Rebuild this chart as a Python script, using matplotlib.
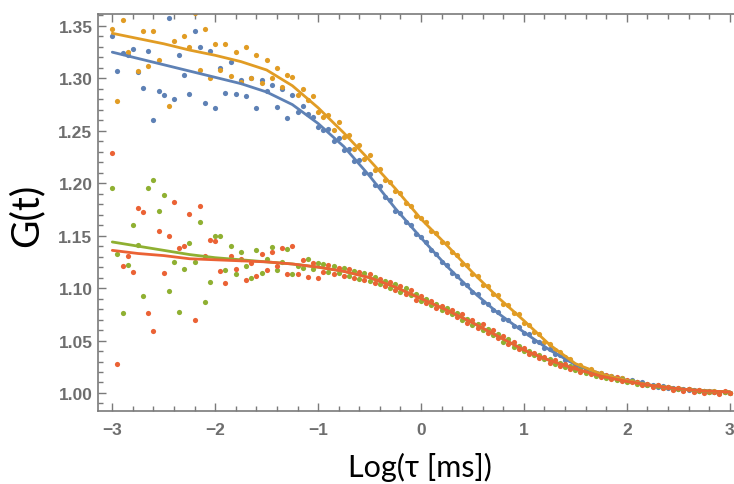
import matplotlib
matplotlib.use("Agg")
import matplotlib.pyplot as plt
from matplotlib.ticker import MultipleLocator, FormatStrFormatter

# log10 of lag time (ms), one entry per measured point
log_tau = [
    -3.00, -2.95, -2.90, -2.85, -2.80, -2.75, -2.70, -2.65, -2.60, -2.55, -2.50,
    -2.45, -2.40, -2.35, -2.30, -2.25, -2.20, -2.15, -2.10, -2.05, -2.00,
    -1.95, -1.90, -1.85, -1.80, -1.75, -1.70, -1.65, -1.60, -1.55, -1.50,
    -1.45, -1.40, -1.35, -1.30, -1.25, -1.20, -1.15, -1.10, -1.05, -1.00,
    -0.95, -0.90, -0.85, -0.80, -0.75, -0.70, -0.65, -0.60, -0.55, -0.50,
    -0.45, -0.40, -0.35, -0.30, -0.25, -0.20, -0.15, -0.10, -0.05, 0.00,
    0.05, 0.10, 0.15, 0.20, 0.25, 0.30, 0.35, 0.40, 0.45, 0.50,
    0.55, 0.60, 0.65, 0.70, 0.75, 0.80, 0.85, 0.90, 0.95, 1.00,
    1.05, 1.10, 1.15, 1.20, 1.25, 1.30, 1.35, 1.40, 1.45, 1.50,
    1.55, 1.60, 1.65, 1.70, 1.75, 1.80, 1.85, 1.90, 1.95, 2.00,
    2.05, 2.10, 2.15, 2.20, 2.25, 2.30, 2.35, 2.40, 2.45, 2.50,
    2.55, 2.60, 2.65, 2.70, 2.75, 2.80, 2.85, 2.90, 2.95, 3.00,
]

g_blue = [
    1.340, 1.307, 1.324, 1.322, 1.328, 1.306, 1.291, 1.326, 1.260, 1.288, 1.284,
    1.358, 1.280, 1.322, 1.303, 1.285, 1.345, 1.330, 1.277, 1.326, 1.272,
    1.310, 1.286, 1.316, 1.285, 1.298, 1.283, 1.300, 1.272, 1.298, 1.288,
    1.294, 1.273, 1.290, 1.262, 1.284, 1.268, 1.274, 1.266, 1.263, 1.254,
    1.251, 1.252, 1.240, 1.243, 1.232, 1.233, 1.221, 1.222, 1.210, 1.209,
    1.198, 1.197, 1.187, 1.184, 1.174, 1.172, 1.163, 1.160, 1.152, 1.149,
    1.144, 1.136, 1.133, 1.125, 1.122, 1.114, 1.112, 1.105, 1.103, 1.096,
    1.094, 1.087, 1.085, 1.079, 1.077, 1.071, 1.070, 1.064, 1.063, 1.057,
    1.056, 1.050, 1.049, 1.043, 1.042, 1.037, 1.036, 1.031, 1.031, 1.026,
    1.026, 1.022, 1.022, 1.019, 1.019, 1.016, 1.016, 1.013, 1.014, 1.011,
    1.012, 1.010, 1.010, 1.008, 1.008, 1.006, 1.007, 1.005, 1.005, 1.004,
    1.004, 1.003, 1.003, 1.002, 1.002, 1.001, 1.001, 1.000, 1.001, 1.000,
]

g_orange = [
    1.347, 1.278, 1.356, 1.325, 1.365, 1.307, 1.345, 1.312, 1.345, 1.318, 1.370,
    1.274, 1.336, 1.365, 1.340, 1.330, 1.362, 1.308, 1.347, 1.300, 1.333,
    1.308, 1.333, 1.302, 1.325, 1.297, 1.330, 1.300, 1.322, 1.296, 1.318,
    1.300, 1.310, 1.292, 1.303, 1.301, 1.284, 1.290, 1.279, 1.283, 1.268,
    1.263, 1.265, 1.251, 1.258, 1.244, 1.246, 1.233, 1.236, 1.223, 1.227,
    1.213, 1.214, 1.203, 1.201, 1.193, 1.191, 1.181, 1.178, 1.169, 1.167,
    1.163, 1.154, 1.153, 1.144, 1.143, 1.134, 1.132, 1.123, 1.122, 1.113,
    1.112, 1.103, 1.102, 1.094, 1.093, 1.085, 1.084, 1.076, 1.075, 1.067,
    1.065, 1.058, 1.056, 1.049, 1.047, 1.041, 1.039, 1.034, 1.032, 1.027,
    1.027, 1.023, 1.023, 1.019, 1.019, 1.016, 1.016, 1.013, 1.014, 1.011,
    1.011, 1.010, 1.009, 1.009, 1.007, 1.008, 1.006, 1.006, 1.004, 1.005,
    1.003, 1.004, 1.002, 1.003, 1.002, 1.001, 1.002, 1.000, 1.001, 1.000,
]

g_green = [
    1.195, 1.133, 1.076, 1.122, 1.160, 1.141, 1.092, 1.195, 1.203, 1.174, 1.189,
    1.097, 1.125, 1.077, 1.118, 1.143, 1.125, 1.163, 1.087, 1.106, 1.150,
    1.150, 1.117, 1.140, 1.113, 1.134, 1.121, 1.110, 1.136, 1.114, 1.128,
    1.139, 1.117, 1.125, 1.137, 1.113, 1.121, 1.119, 1.128, 1.118, 1.124,
    1.123, 1.115, 1.121, 1.114, 1.119, 1.112, 1.116, 1.109, 1.114, 1.107,
    1.111, 1.104, 1.107, 1.100, 1.104, 1.096, 1.100, 1.093, 1.094, 1.088,
    1.090, 1.084, 1.085, 1.079, 1.081, 1.075, 1.076, 1.070, 1.071, 1.065,
    1.066, 1.060, 1.061, 1.055, 1.056, 1.049, 1.051, 1.044, 1.045, 1.040,
    1.040, 1.036, 1.036, 1.032, 1.032, 1.028, 1.029, 1.025, 1.026, 1.022,
    1.023, 1.019, 1.020, 1.016, 1.017, 1.014, 1.015, 1.012, 1.013, 1.010,
    1.011, 1.009, 1.009, 1.008, 1.007, 1.007, 1.005, 1.006, 1.004, 1.004,
    1.003, 1.004, 1.002, 1.002, 1.002, 1.001, 1.001, 1.000, 1.001, 1.000,
]

g_red = [
    1.229, 1.028, 1.121, 1.131, 1.115, 1.176, 1.173, 1.076, 1.059, 1.154, 1.114,
    1.150, 1.182, 1.138, 1.140, 1.171, 1.070, 1.178, 1.131, 1.146, 1.145,
    1.116, 1.105, 1.131, 1.118, 1.128, 1.108, 1.124, 1.112, 1.133, 1.117,
    1.134, 1.121, 1.138, 1.113, 1.140, 1.113, 1.127, 1.111, 1.124, 1.110,
    1.115, 1.122, 1.113, 1.119, 1.112, 1.118, 1.110, 1.115, 1.108, 1.113,
    1.105, 1.109, 1.102, 1.106, 1.098, 1.102, 1.094, 1.098, 1.089, 1.092,
    1.086, 1.088, 1.081, 1.083, 1.077, 1.079, 1.072, 1.075, 1.067, 1.070,
    1.062, 1.066, 1.057, 1.060, 1.052, 1.054, 1.047, 1.049, 1.042, 1.043,
    1.037, 1.038, 1.033, 1.034, 1.029, 1.031, 1.026, 1.028, 1.023, 1.025,
    1.020, 1.022, 1.018, 1.019, 1.015, 1.017, 1.013, 1.015, 1.011, 1.012,
    1.010, 1.010, 1.008, 1.009, 1.006, 1.008, 1.005, 1.006, 1.003, 1.005,
    1.002, 1.004, 1.001, 1.003, 1.000, 1.002, 1.001, 0.999, 1.002, 1.000,
]

# fitted curves, sampled every 0.25 in log(tau)
fit_x = [-3.00, -2.75, -2.50, -2.25, -2.00, -1.75, -1.50, -1.25, -1.00, -0.75,
         -0.50, -0.25, 0.00, 0.25, 0.50, 0.75, 1.00, 1.25, 1.50, 1.75,
         2.00, 2.25, 2.50, 2.75, 3.00]
fit_blue = [1.325, 1.319, 1.313, 1.307, 1.301, 1.295, 1.287, 1.275, 1.257, 1.235,
            1.207, 1.176, 1.148, 1.121, 1.097, 1.076, 1.058, 1.041, 1.027, 1.018,
            1.012, 1.007, 1.004, 1.002, 1.001]
fit_orange = [1.343, 1.338, 1.333, 1.327, 1.322, 1.316, 1.308, 1.293, 1.272, 1.248,
              1.222, 1.195, 1.166, 1.141, 1.115, 1.091, 1.069, 1.046, 1.028, 1.018,
              1.012, 1.007, 1.004, 1.002, 1.001]
fit_green = [1.144, 1.140, 1.136, 1.132, 1.129, 1.127, 1.125, 1.123, 1.120, 1.116,
             1.110, 1.101, 1.090, 1.079, 1.067, 1.054, 1.041, 1.031, 1.023, 1.016,
             1.011, 1.007, 1.004, 1.002, 1.001]
fit_red = [1.136, 1.133, 1.131, 1.128, 1.127, 1.126, 1.125, 1.123, 1.120, 1.116,
           1.110, 1.101, 1.090, 1.079, 1.067, 1.054, 1.041, 1.031, 1.023, 1.016,
           1.011, 1.007, 1.004, 1.002, 1.001]

colores = ["#5E81B5", "#E19C24", "#8FB032", "#EB6235"]


def main():
    fig = plt.figure(figsize=(7.34, 4.85), dpi=100)
    # the frame runs past the right edge, like the cropped original
    ax = fig.add_axes([98 / 734, 1 - 412 / 485, 646 / 734, 397 / 485])

    puntos = [g_blue, g_orange, g_green, g_red]
    ajustes = [fit_blue, fit_orange, fit_green, fit_red]

    for serie, c in zip(puntos, colores):
        ax.scatter(log_tau, serie, s=14, color=c, linewidths=0, zorder=2)
    for ajuste, c in zip(ajustes, colores):
        ax.plot(fit_x, ajuste, color=c, lw=2.0, zorder=3, solid_capstyle="round")

    ax.set_xlim(-3.139, 3.139)
    ax.set_ylim(0.9828, 1.3614)

    ax.xaxis.set_major_locator(MultipleLocator(1))
    ax.xaxis.set_minor_locator(MultipleLocator(0.2))
    ax.yaxis.set_major_locator(MultipleLocator(0.05))
    ax.yaxis.set_minor_locator(MultipleLocator(0.01))
    ax.yaxis.set_major_formatter(FormatStrFormatter("%.2f"))
    ax.set_xticks([-3, -2, -1, 0, 1, 2, 3])
    ax.set_xticklabels(["\u22123", "\u22122", "\u22121", "0", "1", "2", "3"])

    gris = "#7a7a7a"
    for s in ax.spines.values():
        s.set_color(gris)
        s.set_linewidth(1.2)
    ax.tick_params(which="both", direction="in", top=True, right=True,
                   color=gris, width=1.0, labelcolor="#6e6e6e")
    ax.tick_params(which="major", length=6)
    ax.tick_params(which="minor", length=3.5)
    ax.tick_params(axis="x", pad=8)
    ax.tick_params(axis="y", pad=4)
    for lab in ax.get_xticklabels() + ax.get_yticklabels():
        lab.set_fontfamily("Liberation Sans")
        lab.set_fontweight("bold")
        lab.set_fontsize(12.5)

    fig.text(420 / 734, 1 - 477 / 485, "Log(\u03c4 [ms])", ha="center",
             va="baseline", fontsize=22, family="Lato", color="black")
    fig.text(26 / 734, 1 - 215 / 485, "G(t)", ha="center", va="center",
             rotation=90, fontsize=28, family="Lato", color="black")

    fig.savefig("out.png", dpi=100)


if __name__ == "__main__":
    main()
